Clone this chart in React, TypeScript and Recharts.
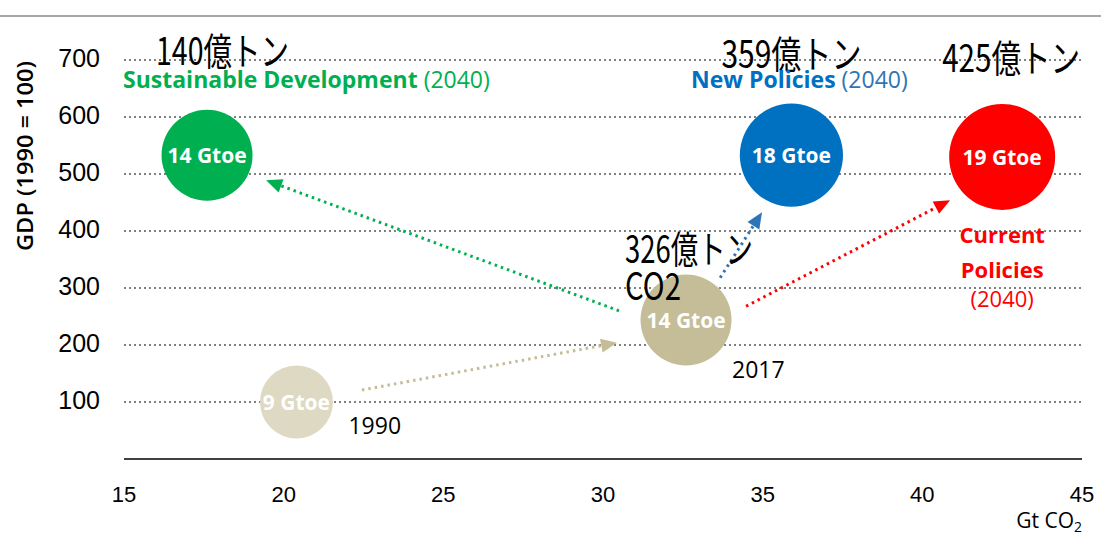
import React from 'react';
import { ScatterChart, Scatter, XAxis, YAxis, ZAxis, CartesianGrid, ReferenceLine } from 'recharts';

// ---- data ----
const SCENARIOS = ['1990', '2017', 'Sustainable Development', 'New Policies', 'Current Policies'];
const CO2_GT = [20.4, 32.6, 17.6, 35.9, 42.5];
const GDP_INDEX = [100, 244, 533, 533, 530];
const ENERGY_GTOE = [9, 14, 14, 18, 19];
const CO2_OKU_TON = ['', '326億トン', '140億トン', '359億トン', '425億トン'];

const X_TICKS = [15, 20, 25, 30, 35, 40, 45];
const Y_TICKS = [100, 200, 300, 400, 500, 600, 700];

// arrows (data units): from -> to
const ARROW_TARGET = ['Sustainable Development', 'New Policies', 'Current Policies', '2017'];
const ARROW_START_X = [30.5, 33.67, 34.48, 22.45];
const ARROW_START_Y = [260, 318, 268, 121];
const ARROW_END_X = [19.45, 34.98, 40.87, 30.44];
const ARROW_END_Y = [489, 433, 454, 204];

// ---- styles ----
const FILL: Record<string, string> = {
  '1990': '#DDD9C3',
  '2017': '#C4BD97',
  'Sustainable Development': '#00B050',
  'New Policies': '#0070C0',
  'Current Policies': '#FF0000',
};
const ARROW_COLOR: Record<string, string> = {
  'Sustainable Development': '#00B050',
  'New Policies': '#2E75B6',
  'Current Policies': '#FF0000',
  '2017': '#C4BD97',
};

const LATIN = "'Open Sans', 'Liberation Sans', sans-serif";
const CJK = "'Noto Sans CJK JP', sans-serif";
const TICK_FONT = "'Liberation Sans', Arial, sans-serif";

const data = SCENARIOS.map((name, i) => ({
  name,
  x: CO2_GT[i],
  y: GDP_INDEX[i],
  gtoe: ENERGY_GTOE[i],
  co2: CO2_OKU_TON[i],
}));

const arrows = ARROW_TARGET.map((t, i) => ({
  target: t,
  x1: ARROW_START_X[i],
  y1: ARROW_START_Y[i],
  x2: ARROW_END_X[i],
  y2: ARROW_END_Y[i],
}));

const CjkText = ({ x, y, len, anchor = 'start', children }: any) => (
  <text x={x} y={y} fontFamily={CJK} fontSize={38} fill="#000" textAnchor={anchor}
    textLength={len} lengthAdjust="spacingAndGlyphs">{children}</text>
);

function Bubble(props: any) {
  const { cx, cy, payload } = props;
  const r = Math.sqrt(Math.max(props.size || 0, 0) / Math.PI);
  const name = payload.name;
  const extra: any[] = [];
  if (name === '1990') {
    extra.push(<text key="a" x={cx + 52} y={cy + 32} fontFamily={LATIN} fontSize={23} fill="#000">1990</text>);
  } else if (name === '2017') {
    extra.push(<text key="a" x={cx + 46} y={cy + 58} fontFamily={LATIN} fontSize={23} fill="#000">2017</text>);
    extra.push(<CjkText key="b" x={cx - 61} y={cy - 57} len={128}>{payload.co2}</CjkText>);
    extra.push(<CjkText key="c" x={cx - 61} y={cy - 20} len={56}>CO2</CjkText>);
  } else if (name === 'Sustainable Development') {
    extra.push(<CjkText key="b" x={cx - 51} y={cy - 90} len={133}>{payload.co2}</CjkText>);
    extra.push(
      <text key="c" x={cx - 84} y={cy - 67} fontFamily={LATIN} fontSize={23} fill="#00B050">
        <tspan fontWeight={700}>Sustainable Development</tspan>
        <tspan> (2040)</tspan>
      </text>
    );
  } else if (name === 'New Policies') {
    extra.push(<CjkText key="b" x={cx} y={cy - 87} len={140} anchor="middle">{payload.co2}</CjkText>);
    extra.push(
      <text key="c" x={cx + 8} y={cy - 67} fontFamily={LATIN} fontSize={23} fill="#0070C0" textAnchor="middle">
        <tspan fontWeight={700}>New Policies</tspan>
        <tspan fill="#2E75B6"> (2040)</tspan>
      </text>
    );
  } else if (name === 'Current Policies') {
    extra.push(<CjkText key="b" x={cx + 9} y={cy - 85} len={138} anchor="middle">{payload.co2}</CjkText>);
    extra.push(<text key="c" x={cx} y={cy + 86} fontFamily={LATIN} fontSize={22} fontWeight={700} fill="#FF0000" textAnchor="middle">Current</text>);
    extra.push(<text key="d" x={cx} y={cy + 121} fontFamily={LATIN} fontSize={22} fontWeight={700} fill="#FF0000" textAnchor="middle">Policies</text>);
    extra.push(<text key="e" x={cx} y={cy + 150} fontFamily={LATIN} fontSize={22} fill="#FF0000" textAnchor="middle">(2040)</text>);
  }
  return (
    <g>
      <circle cx={cx} cy={cy} r={r} fill={FILL[name]} />
      <text x={cx} y={cy + 8} textAnchor="middle" fill="#fff" fontFamily={LATIN} fontWeight={700} fontSize={21}>
        {payload.gtoe} Gtoe
      </text>
      {extra}
    </g>
  );
}

const makeArrow = (color: string) => (p: any) => {
  const x1 = Number(p.x1), y1 = Number(p.y1), x2 = Number(p.x2), y2 = Number(p.y2);
  const dx = x2 - x1, dy = y2 - y1;
  const len = Math.hypot(dx, dy) || 1;
  const ux = dx / len, uy = dy / len;
  const head = 16, half = 7;
  const bx = x2 - ux * head, by = y2 - uy * head;
  return (
    <g>
      <line x1={x1} y1={y1} x2={bx} y2={by} stroke={color} strokeWidth={3} strokeDasharray="2.5 4" />
      <polygon points={`${x2},${y2} ${bx - uy * half},${by + ux * half} ${bx + uy * half},${by - ux * half}`} fill={color} />
    </g>
  );
};

const gridRows = (gp: any) => {
  const scale = gp?.yAxis?.scale;
  if (typeof scale === 'function') return Y_TICKS.map((t) => scale(t));
  const off = gp?.offset || { top: 31.5, height: 427.5 };
  return Y_TICKS.map((t) => off.top + off.height * (1 - t / 750));
};

export default function App() {
  return (
    <div style={{ position: 'absolute', left: 0, top: 0, width: 1101, height: 540, background: '#fff' }}>
      <div style={{ position: 'absolute', left: 0, top: 15, width: 1101, height: 2, background: '#A6A6A6' }} />
      <div style={{ position: 'absolute', left: 0, top: 0 }}>
        <ScatterChart width={1101} height={540} margin={{ top: 31.5, right: 19, bottom: 41, left: 64 }}>
          <CartesianGrid vertical={false} horizontal stroke="#808080" strokeWidth={1.8} strokeDasharray="2 3"
            horizontalCoordinatesGenerator={gridRows} />
          <XAxis
            type="number"
            dataKey="x"
            domain={[15, 45]}
            ticks={X_TICKS}
            allowDecimals={false}
            axisLine={{ stroke: '#404040', strokeWidth: 2 }}
            tickLine={false}
            tickMargin={21}
            height={40}
            tick={{ fontSize: 22, fill: '#000', fontFamily: TICK_FONT }}
            label={{
              content: (lp: any) => {
                const vb = lp.viewBox || { x: 124, y: 459, width: 958, height: 40 };
                return (
                  <text x={vb.x + vb.width} y={vb.y + 69} textAnchor="end" fontFamily={LATIN} fontSize={21} fill="#000">
                    Gt CO<tspan fontSize={14} dy={4}>2</tspan>
                  </text>
                );
              },
            }}
          />
          <YAxis
            type="number"
            dataKey="y"
            domain={[0, 750]}
            ticks={Y_TICKS}
            axisLine={false}
            tickLine={false}
            tickMargin={18}
            width={60}
            tick={{ fontSize: 25, fill: '#000', fontFamily: TICK_FONT, dy: -2 }}
            label={{
              content: (lp: any) => {
                const vb = lp.viewBox || { x: 64, y: 31.5, width: 60, height: 427.5 };
                const tx = vb.x - 31;
                const ty = vb.y + 124.5;
                return (
                  <text x={tx} y={ty} textAnchor="middle" transform={`rotate(-90, ${tx}, ${ty})`}
                    fontFamily={LATIN} fontWeight={600} fontSize={22} fill="#000"
                    textLength={190} lengthAdjust="spacingAndGlyphs">
                    GDP (1990 = 100)
                  </text>
                );
              },
            }}
          />
          <ZAxis type="number" dataKey="gtoe" domain={[0, 19]} range={[0, Math.PI * 53 * 53]} />
          {arrows.map((a) => (
            <ReferenceLine
              key={a.target}
              segment={[{ x: a.x1, y: a.y1 }, { x: a.x2, y: a.y2 }]}
              stroke={ARROW_COLOR[a.target]}
              shape={makeArrow(ARROW_COLOR[a.target])}
              ifOverflow="visible"
            />
          ))}
          <Scatter data={data} isAnimationActive={false} shape={(p: any) => <Bubble {...p} />} />
        </ScatterChart>
      </div>
    </div>
  );
}
